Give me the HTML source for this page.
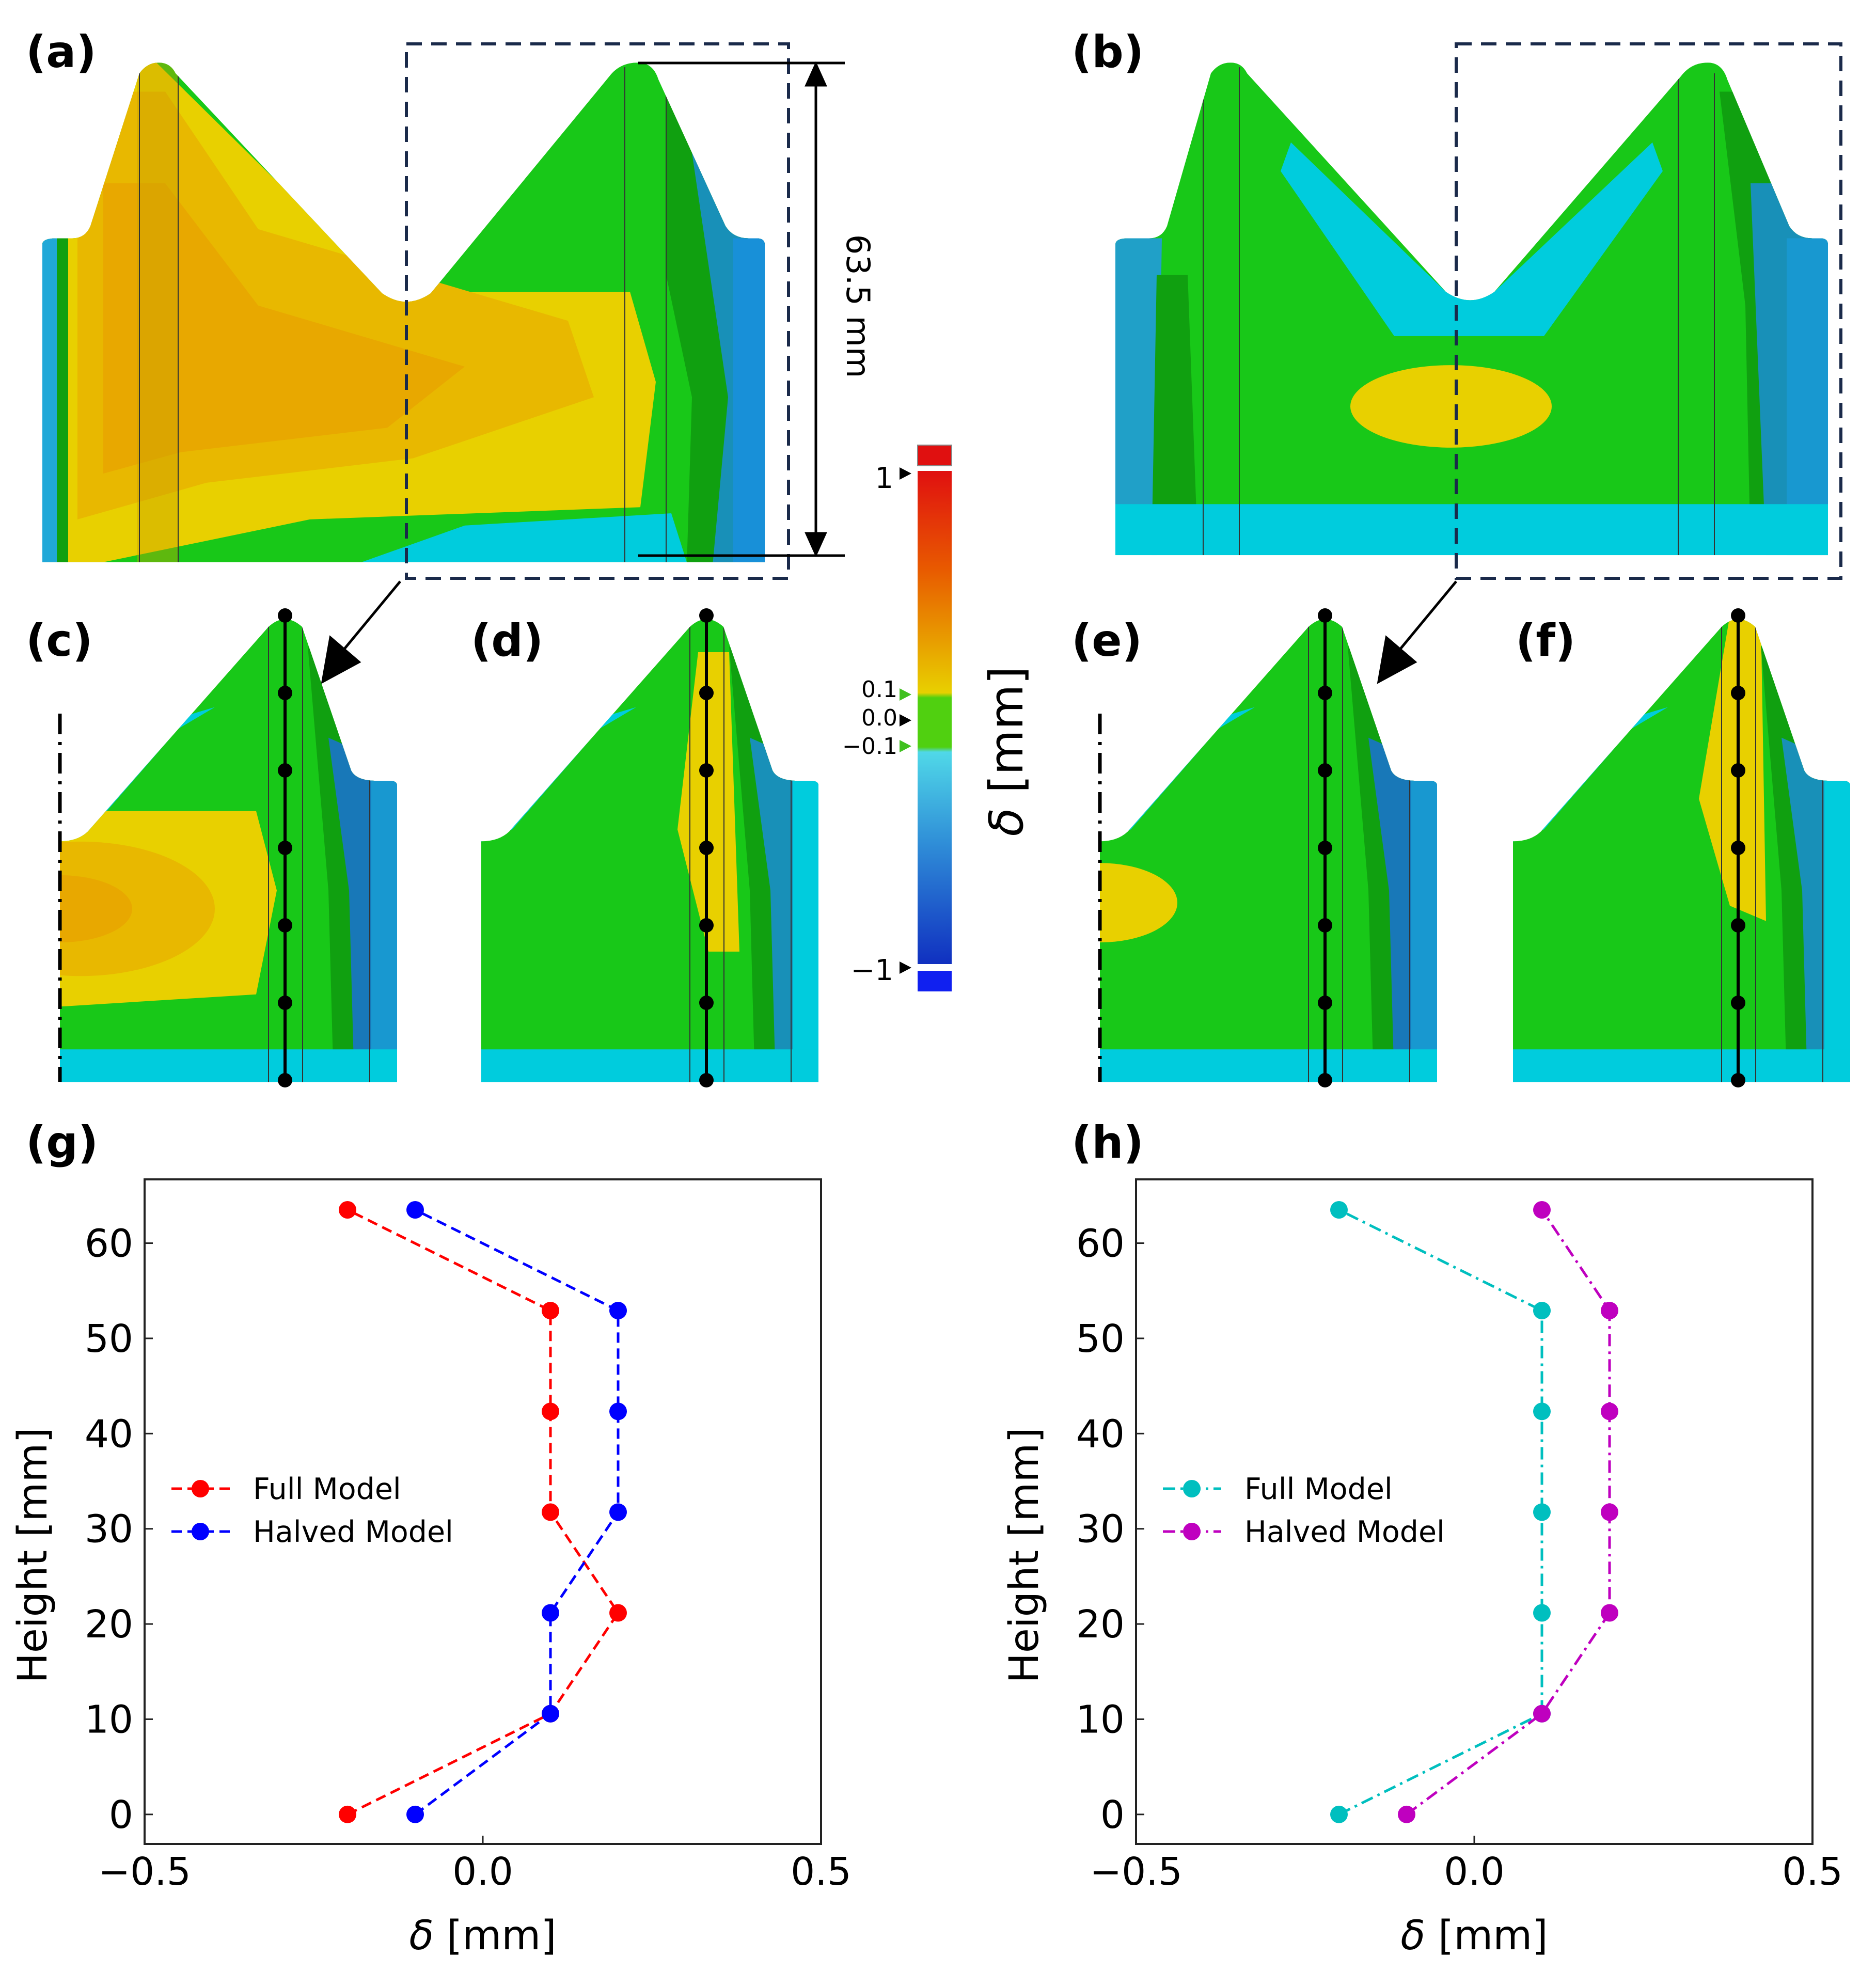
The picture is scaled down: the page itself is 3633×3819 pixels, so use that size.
<!DOCTYPE html>
<html><head><meta charset="utf-8"><style>html,body{margin:0;padding:0;background:#fff}svg{display:block}text{font-family:"DejaVu Sans","Liberation Sans",sans-serif}</style></head>
<body>
<svg id="fig" xmlns="http://www.w3.org/2000/svg" width="3633" height="3819" viewBox="0 0 3633 3819">
<defs>
<clipPath id="clipA"><path d="M82,1840 L82,800 Q82,780 110,780 L140,780 Q165,780 175,740 L270,240 Q285,205 307,205 Q330,205 340,240 L740,960 Q787,1015 834,960 L1180,250 Q1200,205 1235,205 Q1265,205 1275,260 L1405,740 Q1420,780 1450,780 L1465,780 Q1481,780 1481,800 L1481,1840 Z"/></clipPath>
<clipPath id="clipB"><path d="M2160,1817 L2160,800 Q2160,780 2185,780 L2225,780 Q2250,780 2260,740 L2345,240 Q2360,205 2383,205 Q2405,205 2415,240 L2800,955 Q2847,1010 2894,955 L3255,250 Q3275,205 3307,205 Q3335,205 3345,260 L3465,740 Q3480,780 3510,780 L3525,780 Q3540,780 3540,800 L3540,1817 Z"/></clipPath>
<clipPath id="clipPiece"><path d="M0,1527 L0,739 Q34,739 54,707 L404,37 Q436,-13 469,37 L564,507 Q574,541 614,541 L639,541 Q653,541 653,557 L653,1527 Z"/></clipPath>
<linearGradient id="cbar" x1="0" y1="0" x2="0" y2="1">
<stop offset="0" stop-color="#e01010"/><stop offset="0.2" stop-color="#e85a00"/><stop offset="0.35" stop-color="#e8a000"/><stop offset="0.45" stop-color="#e8d000"/><stop offset="0.46" stop-color="#50d010"/><stop offset="0.56" stop-color="#50d010"/><stop offset="0.57" stop-color="#50d8e8"/><stop offset="0.75" stop-color="#3090d8"/><stop offset="1" stop-color="#1030c0"/></linearGradient>
</defs>

<g transform="scale(1,0.5917)">
<!-- panel a -->
<g clip-path="url(#clipA)">
<rect x="80" y="200" width="1410" height="1650" fill="#18c818"/>
<path d="M100,200 L300,200 L600,700 L800,955 L1220,955 L1270,1250 L1240,1660 L600,1700 L200,1840 L120,1840 Z" fill="#e8d000"/>
<path d="M150,300 L320,300 L500,750 L1100,1050 L1150,1300 L800,1500 L400,1580 L150,1700 Z" fill="#e8b800"/>
<path d="M200,600 L320,600 L500,1000 L900,1200 L750,1400 L350,1480 L200,1550 Z" fill="#e8a800"/>
<rect x="82" y="780" width="50" height="1060" fill="#10a010"/>
<path d="M1290,200 L1490,200 L1490,1850 L1330,1850 L1340,1300 L1290,900 Z" fill="#10a010"/>
<path d="M1340,500 L1490,500 L1490,1850 L1380,1850 L1410,1300 Z" fill="#1890b8"/>
<rect x="1420" y="780" width="61" height="1060" fill="#1890d8"/>
<path d="M700,1840 L900,1720 L1300,1680 L1330,1840 Z" fill="#00ccdd"/>
<path d="M82,780 L110,780 L110,1840 L82,1840 Z" fill="#20a8d8"/>
<rect x="265" y="200" width="80" height="1650" fill="#c8a000" opacity="0.4"/>
<line x1="270" y1="220" x2="270" y2="1840" stroke="#333" stroke-width="2"/>
<line x1="345" y1="220" x2="345" y2="1840" stroke="#333" stroke-width="2"/>
<line x1="1210" y1="220" x2="1210" y2="1840" stroke="#333" stroke-width="2"/>
<line x1="1290" y1="240" x2="1290" y2="1840" stroke="#333" stroke-width="2"/>
</g>
<!-- panel b -->
<g clip-path="url(#clipB)">
<rect x="2150" y="200" width="1400" height="1630" fill="#18c818"/>
<path d="M2500,466 L2800,955 Q2847,1005 2894,955 L3200,466 L3220,560 L2990,1100 L2700,1100 L2480,560 Z" fill="#00ccdd"/>
<ellipse cx="2810" cy="1330" rx="195" ry="135" fill="#e8d000"/>
<path d="M2160,780 L2250,780 L2240,1817 L2160,1817 Z" fill="#20a0c8"/>
<path d="M2240,900 L2300,900 L2320,1817 L2230,1817 Z" fill="#10a010"/>
<path d="M3330,300 L3540,300 L3540,1817 L3390,1817 L3380,1000 Z" fill="#10a010"/>
<path d="M3390,600 L3540,600 L3540,1817 L3420,1817 Z" fill="#1890b8"/>
<rect x="3460" y="780" width="80" height="1040" fill="#1898d0"/>
<rect x="2160" y="1650" width="1380" height="170" fill="#00ccdd"/>
<line x1="2330" y1="220" x2="2330" y2="1817" stroke="#333" stroke-width="2"/>
<line x1="2400" y1="220" x2="2400" y2="1817" stroke="#333" stroke-width="2"/>
<line x1="3250" y1="240" x2="3250" y2="1817" stroke="#333" stroke-width="2"/>
<line x1="3320" y1="240" x2="3320" y2="1817" stroke="#333" stroke-width="2"/>
</g>
</g>
<!-- dashed boxes, dimension -->
<rect x="787" y="85" width="740" height="1035" fill="none" stroke="#1a2a4a" stroke-width="6" stroke-dasharray="30,18"/>
<rect x="2820" y="85" width="745" height="1035" fill="none" stroke="#1a2a4a" stroke-width="6" stroke-dasharray="30,18"/>
<g stroke="#000" stroke-width="5">
<line x1="1236" y1="122" x2="1636" y2="122"/><line x1="1236" y1="1076" x2="1636" y2="1076"/>
<line x1="1580" y1="150" x2="1580" y2="1050"/>
<polygon points="1580,125 1562,165 1598,165" fill="#000"/><polygon points="1580,1073 1562,1033 1598,1033" fill="#000"/>
</g>
<text x="1640" y="593" font-size="62" transform="rotate(90 1640 593)" text-anchor="middle">63.5 mm</text>
<!-- arrows -->
<g stroke="#000" stroke-width="5">
<line x1="775" y1="1126" x2="660" y2="1265"/><polygon points="625,1320 640,1235 695,1282" fill="#000"/>
<line x1="2820" y1="1126" x2="2705" y2="1265"/><polygon points="2670,1320 2685,1235 2740,1282" fill="#000"/>
</g>
<!-- colorbar -->
<g>
<rect x="1777" y="862" width="66" height="40" fill="#e01010" stroke="#888" stroke-width="2"/>
<rect x="1777" y="912" width="66" height="955" fill="url(#cbar)"/>
<rect x="1777" y="1880" width="66" height="40" fill="#1020f0"/>
<g font-size="44" text-anchor="end">
<text x="1730" y="945" font-size="56">1</text><text x="1738" y="1350">0.1</text><text x="1738" y="1405">0.0</text><text x="1738" y="1460">−0.1</text><text x="1730" y="1898" font-size="56">−1</text></g>
<polygon points="1742,905 1765,917 1742,929" fill="#000"/><polygon points="1742,1333 1765,1345 1742,1357" fill="#40c020"/><polygon points="1742,1383 1765,1395 1742,1407" fill="#000"/><polygon points="1742,1433 1765,1445 1742,1457" fill="#40c020"/><polygon points="1742,1862 1765,1874 1742,1886" fill="#000"/>
<text x="1980" y="1455" font-size="90" transform="rotate(-90 1980 1455)" text-anchor="middle"><tspan font-style="italic">δ</tspan> [mm]</text>
</g>
<!-- lower pieces -->
<g id="pieces"></g>
<!-- panel labels -->
<g font-size="86" font-weight="bold" font-family="Liberation Sans, sans-serif">
<text x="50" y="130">(a)</text><text x="2075" y="130">(b)</text>
<text x="50" y="1270">(c)</text><text x="912" y="1270">(d)</text><text x="2075" y="1270">(e)</text><text x="2935" y="1270">(f)</text>
<text x="50" y="2242">(g)</text><text x="2075" y="2242">(h)</text>
</g>
<g id="charts"></g>
</svg>
<script>
const NS='http://www.w3.org/2000/svg';
function mk(p,tag,at,txt){const e=document.createElementNS(NS,tag);for(const k in at)e.setAttribute(k,at[k]);if(txt!==undefined)e.textContent=txt;p.appendChild(e);return e;}
// pieces
const pieceX=[116,932,2130,2930];
const pg=document.getElementById('pieces');
const SY=0.5917, PTOP=1192;
pieceX.forEach((px,i)=>{
 const g=mk(pg,'g',{transform:`translate(${px},${PTOP})`});
 
 
 const sg=mk(g,'g',{transform:`scale(1,${SY})`});
 const c=mk(sg,'g',{'clip-path':'url(#clipPiece)'});
 mk(c,'rect',{x:-5,y:-20,width:670,height:1560,fill:'#18c818'});
 mk(c,'path',{d:'M0,600 L300,300 L0,450 Z',fill:'#00ccdd'});
 mk(c,'path',{d:'M0,740 L60,700 L420,0 L380,0 L0,600 Z',fill:'#00ccdd'});
 if(i===0){mk(c,'path',{d:'M0,640 L380,640 L420,900 L380,1240 L0,1280 Z',fill:'#e8d000'});mk(c,'ellipse',{cx:40,cy:960,rx:260,ry:220,fill:'#e8b800'});mk(c,'ellipse',{cx:0,cy:960,rx:140,ry:110,fill:'#e8a800'});}
 if(i===1){mk(c,'path',{d:'M420,120 L480,120 L500,1100 L440,1100 L380,700 Z',fill:'#e8d000'});}
 if(i===2){mk(c,'ellipse',{cx:0,cy:940,rx:150,ry:130,fill:'#e8d000'});}
 if(i===3){mk(c,'path',{d:'M420,0 L480,0 L490,1000 L420,950 L360,600 Z',fill:'#e8d000'});}
 mk(c,'path',{d:'M480,100 L653,400 L653,1527 L530,1527 L520,900 Z',fill:'#10a010'});
 mk(c,'path',{d:'M520,400 L653,500 L653,1527 L570,1527 L560,900 Z',fill:i%2?'#1890b8':'#1878b8'});
 mk(c,'rect',{x:603,y:540,width:50,height:990,fill:i%2?'#00ccdd':'#1898d0'});
 mk(c,'rect',{x:0,y:1420,width:653,height:110,fill:'#00ccdd'});
 mk(c,'line',{x1:404,y1:30,x2:404,y2:1527,stroke:'#333','stroke-width':2});
 mk(c,'line',{x1:470,y1:30,x2:470,y2:1527,stroke:'#333','stroke-width':2});
 mk(c,'line',{x1:600,y1:540,x2:600,y2:1527,stroke:'#333','stroke-width':2});
 if(i%2===0){const l=mk(g,'line',{x1:0,y1:190,x2:0,y2:903,stroke:'#000','stroke-width':7,'stroke-dasharray':'40,15,6,15'});}
 mk(g,'line',{x1:436,y1:0,x2:436,y2:903,stroke:'#000','stroke-width':6});
 for(let k=0;k<7;k++){const d=mk(g,'circle',{cx:436,cy:k*150,r:14,fill:'#000'});}
});

// ---- chart data ----
const heights=[0,10.58,21.17,31.75,42.33,52.92,63.5];
const gFull=[-0.2,0.1,0.2,0.1,0.1,0.1,-0.2];
const gHalved=[-0.1,0.1,0.1,0.2,0.2,0.2,-0.1];
const hFull=[-0.2,0.1,0.1,0.1,0.1,0.1,-0.2];
const hHalved=[-0.1,0.1,0.2,0.2,0.2,0.2,0.1];
const xTicks=[-0.5,0.0,0.5];
const xTickLabels=['−0.5','0.0','0.5'];
const yTicks=[0,10,20,30,40,50,60];
const seriesNames=['Full Model','Halved Model'];

function chart(id,left,right,s1,s2,c1,c2,dash){
 const top=2284,bottom=3571,x0=-0.5,x1=0.5,y0=-3.1,y1=66.7;
 const X=v=>left+(v-x0)/(x1-x0)*(right-left);
 const Y=v=>bottom-(v-y0)/(y1-y0)*(bottom-top);
 const g=mk(document.getElementById('charts'),'g',{});
 
 
 const fr=mk(g,'rect',{x:left,y:top,width:right-left,height:bottom-top,fill:'none',stroke:'#222','stroke-width':4});
 
 
 xTicks.forEach((t,i)=>{mk(g,'line',{x1:X(t),y1:bottom,x2:X(t),y2:bottom-16,stroke:'#222','stroke-width':3});
  const tl=mk(g,'text',{x:X(t),y:3650,'font-size':74,'text-anchor':'middle'},xTickLabels[i]);
  
  });
 yTicks.forEach(t=>{mk(g,'line',{x1:left,y1:Y(t),x2:left+16,y2:Y(t),stroke:'#222','stroke-width':3});
  const tl=mk(g,'text',{x:left-22,y:Y(t)+26,'font-size':74,'text-anchor':'end'},String(t));
  
  });
 const xl=mk(g,'text',{x:(left+right)/2,y:3775,'font-size':78,'text-anchor':'middle'});
 
 
 mk(xl,'tspan',{'font-style':'italic'},'δ');mk(xl,'tspan',{},' [mm]');
 const yx=left-190;
 const yl=mk(g,'text',{x:yx,y:3012,'font-size':78,'text-anchor':'middle',transform:`rotate(-90 ${yx} 3012)`},'Height [mm]');
 
 
 [[s1,c1],[s2,c2]].forEach(([s,c],si)=>{
  const pts=s.map((v,k)=>X(v)+','+Y(heights[k])).join(' ');
  const pl=mk(g,'polyline',{points:pts,fill:'none',stroke:c,'stroke-width':5,'stroke-dasharray':dash});
  
  
  s.forEach((v,k)=>{const m=mk(g,'circle',{cx:X(v),cy:Y(heights[k]),r:17,fill:c});
   
   });
  const ly=[2883,2966][si],lx=left+52;
  const le=mk(g,'g',{});
  
  
  mk(le,'line',{x1:lx,y1:ly,x2:lx+113,y2:ly,stroke:c,'stroke-width':5,'stroke-dasharray':dash});
  mk(le,'circle',{cx:lx+56,cy:ly,r:17,fill:c});
  mk(le,'text',{x:left+210,y:ly+20,'font-size':57},seriesNames[si]);
 });
}
chart('g',280,1590,gFull,gHalved,'#ff0000','#0000ff','20,11');
chart('h',2200,3510,hFull,hHalved,'#00bfbf','#bf00bf','24,10,5,10');
</script>
</body></html>
